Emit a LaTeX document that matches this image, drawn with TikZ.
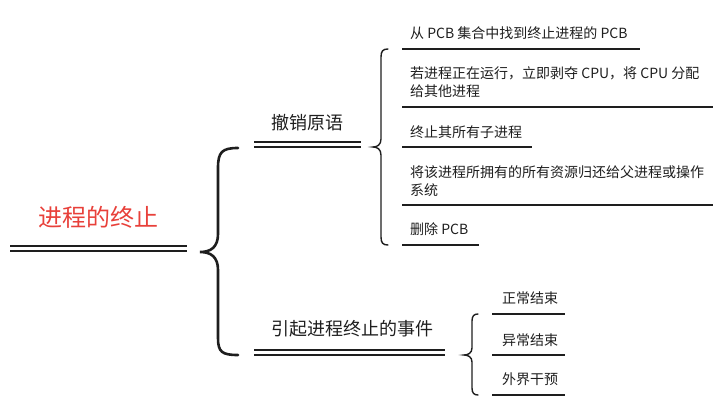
\documentclass[tikz,border=0pt]{standalone}
\usepackage{fontspec}
\newfontfamily\cjk{Noto Sans CJK SC}
\definecolor{rootred}{HTML}{E8403A}
\definecolor{ink}{HTML}{1E1E1E}
\begin{document}
\begin{tikzpicture}[x=1pt,y=-1pt,
  rootlbl/.style={anchor=west,inner sep=0,text=rootred,font=\cjk\fontsize{24}{27}\selectfont},
  branchlbl/.style={anchor=west,inner sep=0,text=ink,font=\cjk\fontsize{18}{20}\selectfont},
  itemlbl/.style={anchor=west,inner sep=0,text=ink,align=left,font=\cjk\fontsize{14}{18}\selectfont},
  uline/.style={draw=ink,line width=1.8pt},
  dline/.style={draw=ink,line width=1.6pt},
  bigbrace/.style={draw=ink,line width=2.6pt,line cap=round},
  smallbrace/.style={draw=ink,line width=1.4pt,line cap=round}]
\useasboundingbox (0,0) rectangle (719,401);
% root
\node[rootlbl] (root) at (38,217) {进程的终止};
\coordinate (rA) at (10,246); \coordinate (rB) at (187,246);
\coordinate (rC) at (10,251); \coordinate (rD) at (187,251);
\draw[dline] (rA) -- (rB); \draw[dline] (rC) -- (rD);
% big brace
\coordinate (bbT) at (238,148); \coordinate (bbTip) at (200,252); \coordinate (bbB) at (238,355);
\draw[bigbrace] (bbT) .. controls (222,148) and (218,152) .. (218,168) -- (218,234)
  .. controls (218,247) and (211,252) .. (bbTip)
  .. controls (211,252) and (218,257) .. (218,270) -- (218,338)
  .. controls (218,352) and (222,355) .. (bbB);
% branch 1
\node[branchlbl] (b1) at (271,123) {撤销原语};
\coordinate (b1a) at (254,142); \coordinate (b1b) at (361,142);
\coordinate (b1c) at (254,147); \coordinate (b1d) at (361,147);
\draw[dline] (b1a) -- (b1b); \draw[dline] (b1c) -- (b1d);
% branch 2
\node[branchlbl] (b2) at (271,329) {引起进程终止的事件};
\coordinate (b2a) at (254,350); \coordinate (b2b) at (445,350);
\coordinate (b2c) at (254,355); \coordinate (b2d) at (445,355);
\draw[dline] (b2a) -- (b2b); \draw[dline] (b2c) -- (b2d);
% small brace 1
\coordinate (s1T) at (388,49); \coordinate (s1Tip) at (373,147); \coordinate (s1B) at (388,245);
\draw[smallbrace] (s1T) .. controls (383,49) and (381,51) .. (381,57) -- (381,139)
  .. controls (381,145) and (377,147) .. (s1Tip)
  .. controls (377,147) and (381,149) .. (381,155) -- (381,237)
  .. controls (381,243) and (383,245) .. (s1B);
% items of branch 1
\node[itemlbl] (i1) at (410,33) {从 PCB 集合中找到终止进程的 PCB};
\coordinate (i1a) at (402,49); \coordinate (i1b) at (640,49);
\draw[uline] (i1a) -- (i1b);
\node[itemlbl] (i2) at (410,82) {若进程正在运行，立即剥夺 CPU，将 CPU 分配\\给其他进程};
\coordinate (i2a) at (402,107); \coordinate (i2b) at (713,107);
\draw[uline] (i2a) -- (i2b);
\node[itemlbl] (i3) at (410,132) {终止其所有子进程};
\coordinate (i3a) at (402,147); \coordinate (i3b) at (532,147);
\draw[uline] (i3a) -- (i3b);
\node[itemlbl] (i4) at (410,181) {将该进程所拥有的所有资源归还给父进程或操作\\系统};
\coordinate (i4a) at (402,205); \coordinate (i4b) at (713,205);
\draw[uline] (i4a) -- (i4b);
\node[itemlbl] (i5) at (410,229) {删除 PCB};
\coordinate (i5a) at (402,245); \coordinate (i5b) at (479,245);
\draw[uline] (i5a) -- (i5b);
% small brace 2
\coordinate (s2T) at (478,314); \coordinate (s2Tip) at (464,355); \coordinate (s2B) at (478,395);
\draw[smallbrace] (s2T) .. controls (474,314) and (472,316) .. (472,321) -- (472,348)
  .. controls (472,353) and (468,355) .. (s2Tip)
  .. controls (468,355) and (472,357) .. (472,362) -- (472,388)
  .. controls (472,393) and (474,395) .. (s2B);
% items of branch 2
\node[itemlbl] (j1) at (502,298) {正常结束};
\coordinate (j1a) at (492,314); \coordinate (j1b) at (565,314);
\draw[uline] (j1a) -- (j1b);
\node[itemlbl] (j2) at (502,340) {异常结束};
\coordinate (j2a) at (492,355); \coordinate (j2b) at (565,355);
\draw[uline] (j2a) -- (j2b);
\node[itemlbl] (j3) at (502,379) {外界干预};
\coordinate (j3a) at (492,395); \coordinate (j3b) at (565,395);
\draw[uline] (j3a) -- (j3b);
\end{tikzpicture}
\end{document}
